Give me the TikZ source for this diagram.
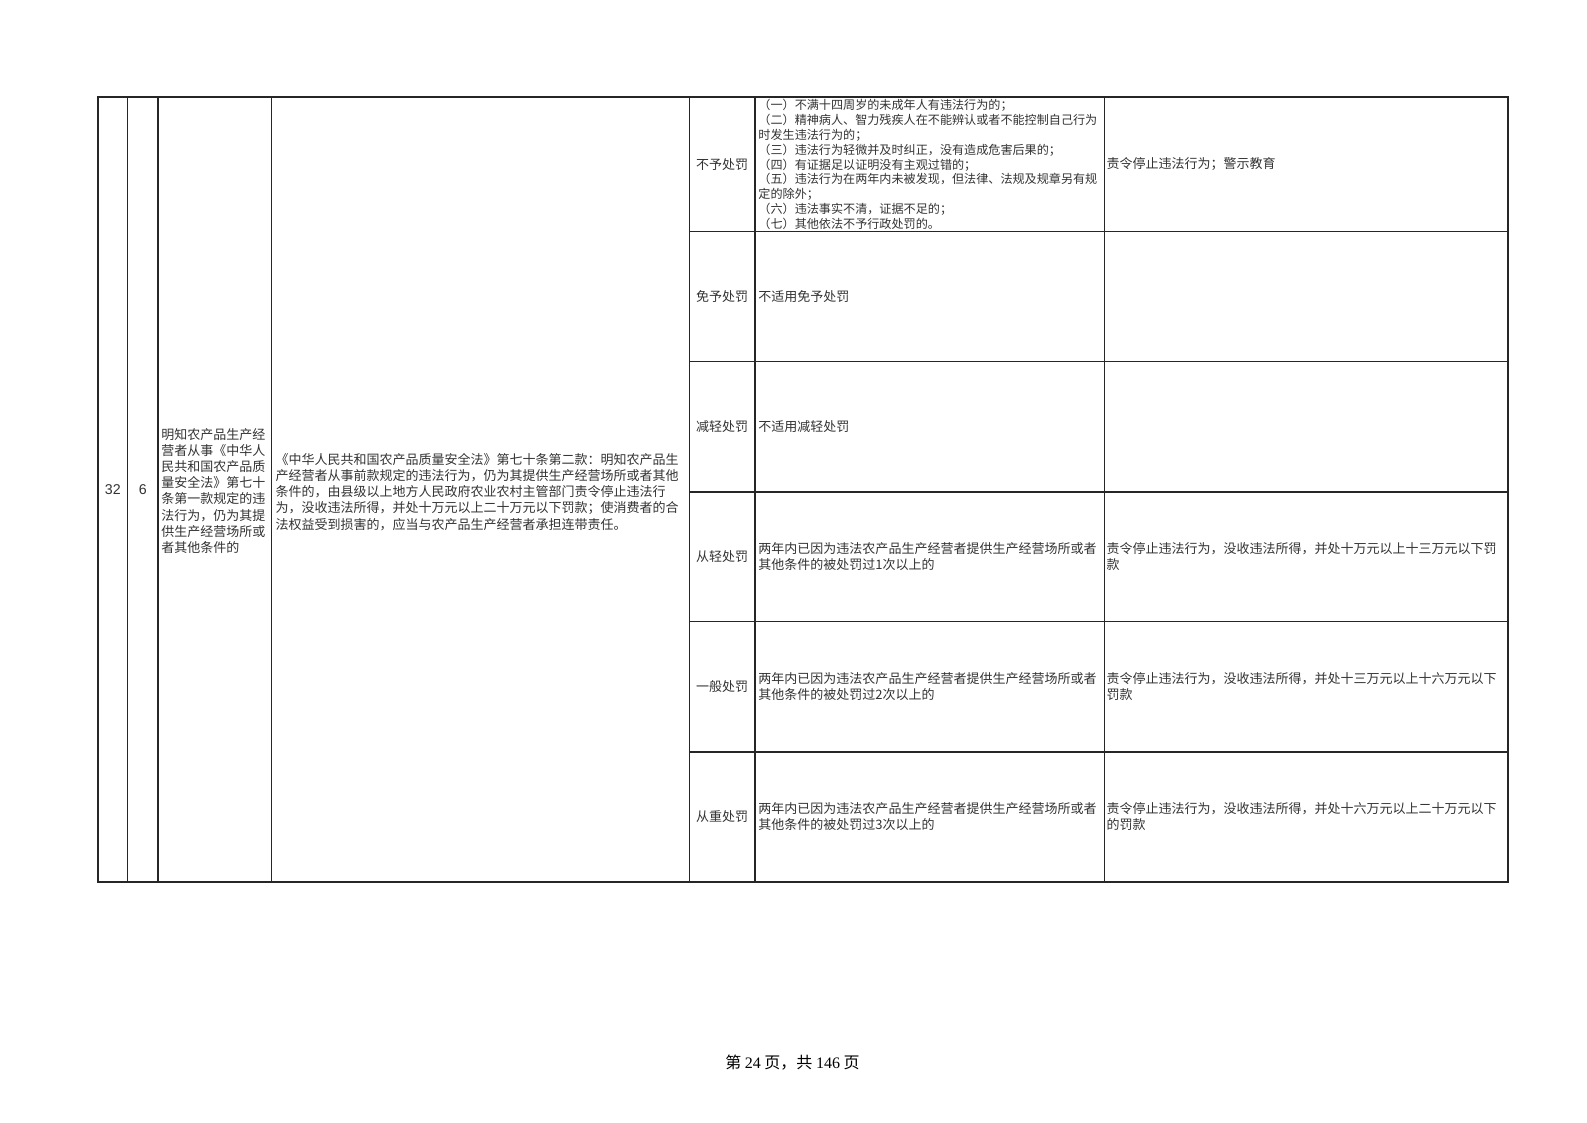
\documentclass[tikz,border=0pt]{standalone}
\usepackage{fontspec}
\newfontfamily\cjk{Noto Sans CJK SC}
\newfontfamily\arialfont{Liberation Sans}
\newfontfamily\timesfont{Liberation Serif}
\usetikzlibrary{positioning}

\begin{document}
\begin{tikzpicture}[x=0.506pt,y=-0.506pt,
 grid line/.style={draw=black!85,line width=0.65pt},
 frame line/.style={draw=black!85,line width=0.95pt},
 cell text/.style={anchor=west,align=left,inner sep=0pt,text=black!80,
   font=\cjk\fontsize{6.5}{8.1}\selectfont},
 small text/.style={cell text,font=\cjk\fontsize{6.05}{7.4}\selectfont},
 kind label/.style={inner sep=0pt,text=black!80,font=\cjk\fontsize{6.5}{8.1}\selectfont},
 num text/.style={inner sep=0pt,text=black!80,font=\arialfont\fontsize{7.1}{8.1}\selectfont}]

  \useasboundingbox[fill=white] (0,0) rectangle (1568,1108.7);

  % table lines
  \foreach \x in {126,156,268,681,746,1091}
   \draw[grid line] (\x,96) -- (\x,871);
  \foreach \y in {229,357,486,614,743}
   \draw[grid line] (681,\y) -- (1490,\y);
  \draw[frame line] (97,96) rectangle (1490,871);

  % merged cells on the left
  \node[num text] (no) at (111.5,484) {32};
  \node[num text] (item) at (141,484) {6};
  \node[cell text] (fact) at (159,485)
   {明知农产品生产经\\营者从事《中华人\\民共和国农产品质\\量安全法》第七十\\条第一款规定的违\\法行为，仍为其提\\供生产经营场所或\\者其他条件的};
  \node[cell text] (basis) at (272,486)
   {《中华人民共和国农产品质量安全法》第七十条第二款：明知农产品生\\产经营者从事前款规定的违法行为，仍为其提供生产经营场所或者其他\\条件的，由县级以上地方人民政府农业农村主管部门责令停止违法行\\为，没收违法所得，并处十万元以上二十万元以下罚款；使消费者的合\\法权益受到损害的，应当与农产品生产经营者承担连带责任。};

  % kinds of penalty
  \foreach \i/\y/\k in {1/162.5/不予处罚, 2/293/免予处罚, 3/421.5/减轻处罚,
    4/550/从轻处罚, 5/678.5/一般处罚, 6/807/从重处罚}
   \node[kind label] (k\i) at (713.5,\y) {\k};

  % conditions
  \node[small text] (c1) at (749,162.5)
   {（一）不满十四周岁的未成年人有违法行为的；\\（二）精神病人、智力残疾人在不能辨认或者不能控制自己行为\\时发生违法行为的；\\（三）违法行为轻微并及时纠正，没有造成危害后果的；\\（四）有证据足以证明没有主观过错的；\\（五）违法行为在两年内未被发现，但法律、法规及规章另有规\\定的除外；\\（六）违法事实不清，证据不足的；\\（七）其他依法不予行政处罚的。};
  \node[cell text] (c2) at (749,293) {不适用免予处罚};
  \node[cell text] (c3) at (749,421.5) {不适用减轻处罚};
  \foreach \i/\y/\n in {4/550/1, 5/678.5/2, 6/807/3}
   \node[cell text] (c\i) at (749,\y)
    {两年内已因为违法农产品生产经营者提供生产经营场所或者\\其他条件的被处罚过\n 次以上的};

  % penalties
  \node[cell text] (p1) at (1093,162.5) {责令停止违法行为；警示教育};
  \node[cell text] (p4) at (1093,550)
   {责令停止违法行为，没收违法所得，并处十万元以上十三万元以下罚\\款};
  \node[cell text] (p5) at (1093,678.5)
   {责令停止违法行为，没收违法所得，并处十三万元以上十六万元以下\\罚款};
  \node[cell text] (p6) at (1093,807)
   {责令停止违法行为，没收违法所得，并处十六万元以上二十万元以下\\的罚款};

  % page number
  \node[inner sep=0pt,font=\cjk\fontsize{8}{9.5}\selectfont] (footer) at (783,1050)
   {第 {\timesfont 24} 页，共 {\timesfont 146} 页};

\end{tikzpicture}
\end{document}
